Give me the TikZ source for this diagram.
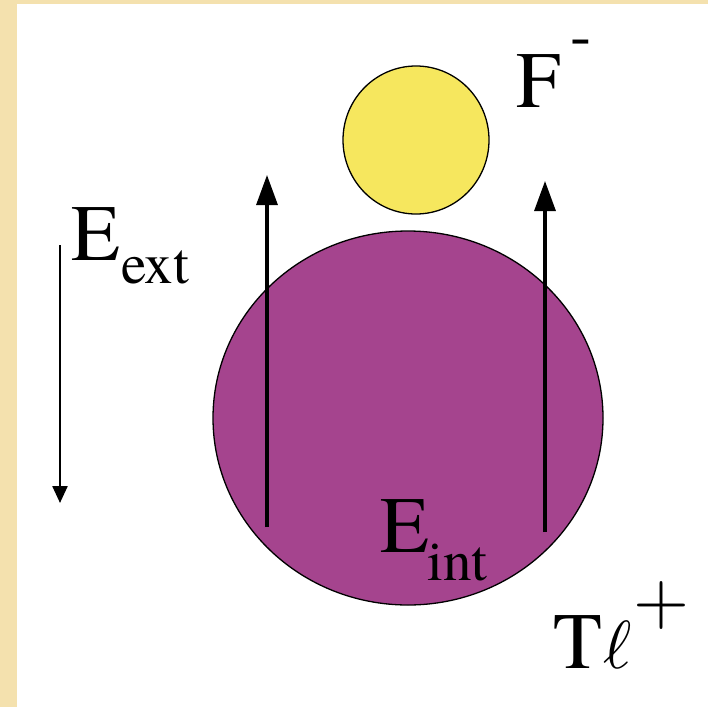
\documentclass[tikz,border=0pt]{standalone}
\usepackage{fontspec}
\setmainfont{TeX Gyre Termes}
\usetikzlibrary{arrows.meta,shapes.geometric}
\definecolor{beige}{HTML}{F4E1AE}
\definecolor{ionyellow}{HTML}{F6E75E}
\definecolor{ionpurple}{HTML}{A5448E}
\tikzset{
  ion/.style={ellipse,draw=black,line width=1.3pt,inner sep=0pt},
  bigtxt/.style={inner sep=0pt,font=\rmfamily\fontsize{80}{80}\selectfont},
  subtxt/.style={inner sep=0pt,font=\rmfamily\fontsize{57}{57}\selectfont},
  field/.style={line width=3.2pt,-{Triangle[length=30pt,width=21pt]}},
  extfield/.style={line width=2.4pt,-{Triangle[length=17pt,width=15pt]}}
}
\begin{document}
\begin{tikzpicture}[x=1pt,y=-1pt]
\useasboundingbox (0,0) rectangle (708,707);
\fill[white] (0,0) rectangle (708,707);
\fill[beige] (0,0) rectangle (708,4);
\fill[beige] (0,0) rectangle (17,707);
% ions
\node[ion,fill=ionpurple,minimum width=390pt,minimum height=374pt] (tl) at (408,418) {};
\node[ion,fill=ionyellow,minimum width=146pt,minimum height=148pt] (f) at (416,140) {};
% internal field arrows
\coordinate (l0) at (267,527);
\coordinate (l1) at (267,175);
\coordinate (r0) at (545,532);
\coordinate (r1) at (545,181);
\draw[field] (l0) -- (l1);
\draw[field] (r0) -- (r1);
% external field arrow
\coordinate (e0) at (60,245);
\coordinate (e1) at (60,503);
\draw[extfield] (e0) -- (e1);
% labels
\node[bigtxt,anchor=base west] (eext) at (71,260) {E};
\node[subtxt,anchor=base west] (eextsub) at (121,283) {ext};
\node[bigtxt,anchor=base west] (fl) at (516,107) {F};
\node[inner sep=0pt,font=\rmfamily\fontsize{64}{64}\selectfont] (fm) at (581,48) {-};
\node[bigtxt,anchor=base west] (eint) at (380,552) {E};
\node[subtxt,anchor=base west] (eintsub) at (427,580) {int};
\node[bigtxt,anchor=base west] (tlT) at (553,668) {T};
\node[inner sep=0pt,anchor=base west] (tlL) at (603,668) {\scalebox{6.8}{$\ell$}};
\node[inner sep=0pt] (tlp) at (661,605) {\scalebox{7.2}{$+$}};
\end{tikzpicture}
\end{document}
